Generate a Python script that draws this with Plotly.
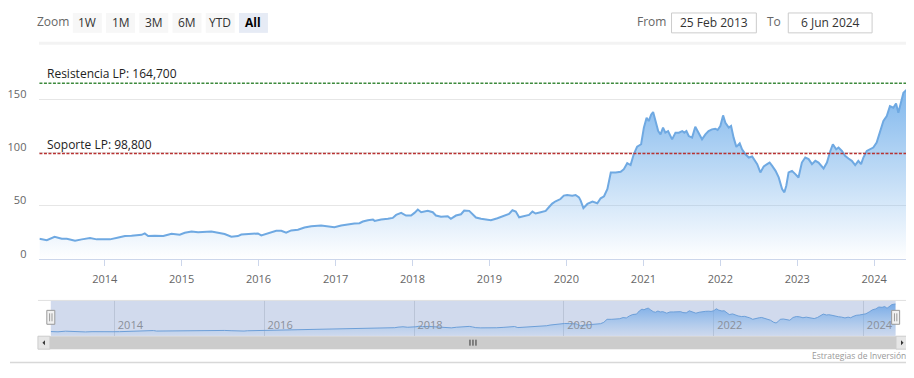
import plotly.graph_objects as go

# ---------------- data ----------------
dates = [
    "2013-02-25", "2013-04-01", "2013-05-08", "2013-06-11", "2013-07-05", "2013-08-13",
    "2013-09-14", "2013-10-23", "2013-11-24", "2013-12-25", "2014-01-26", "2014-03-07",
    "2014-04-07", "2014-05-08", "2014-06-25", "2014-07-10", "2014-07-26", "2014-08-27",
    "2014-10-06", "2014-11-14", "2014-12-23", "2015-01-16", "2015-02-17", "2015-03-20",
    "2015-04-21", "2015-05-22", "2015-06-23", "2015-07-24", "2015-08-25", "2015-09-25",
    "2015-10-11", "2015-11-27", "2015-12-29", "2016-01-14", "2016-02-15", "2016-03-25",
    "2016-04-18", "2016-05-11", "2016-06-04", "2016-07-06", "2016-08-06", "2016-09-07",
    "2016-10-24", "2016-11-25", "2016-12-26", "2017-01-27", "2017-02-28", "2017-03-31",
    "2017-04-24", "2017-05-10", "2017-06-03", "2017-06-27", "2017-07-05", "2017-08-05",
    "2017-09-06", "2017-09-29", "2017-10-15", "2017-11-08", "2017-12-01", "2017-12-25",
    "2018-01-10", "2018-01-26", "2018-02-11", "2018-03-14", "2018-04-07", "2018-04-22",
    "2018-05-16", "2018-06-17", "2018-07-02", "2018-07-26", "2018-08-19", "2018-09-03",
    "2018-09-27", "2018-10-13", "2018-10-29", "2018-11-22", "2018-12-23", "2019-01-08",
    "2019-02-08", "2019-03-11", "2019-04-04", "2019-04-20", "2019-05-06", "2019-05-22",
    "2019-06-14", "2019-07-08", "2019-07-24", "2019-08-08", "2019-09-01", "2019-09-25",
    "2019-10-10", "2019-10-26", "2019-11-11", "2019-12-04", "2019-12-20", "2020-01-05",
    "2020-01-29", "2020-02-14", "2020-03-01", "2020-03-09", "2020-03-22", "2020-04-10",
    "2020-05-04", "2020-05-27", "2020-06-12", "2020-06-28", "2020-07-14", "2020-07-30",
    "2020-08-22", "2020-09-15", "2020-09-30", "2020-10-16", "2020-11-01", "2020-11-16",
    "2020-12-02", "2020-12-21", "2021-01-03", "2021-01-16", "2021-01-26", "2021-02-07",
    "2021-02-16", "2021-02-27", "2021-03-12", "2021-03-23", "2021-04-04", "2021-04-15",
    "2021-04-28", "2021-05-17", "2021-06-02", "2021-06-18", "2021-07-04", "2021-07-14",
    "2021-07-24", "2021-08-04", "2021-08-20", "2021-09-04", "2021-09-20", "2021-10-06",
    "2021-10-22", "2021-11-06", "2021-11-22", "2021-12-08", "2021-12-19", "2022-01-01",
    "2022-01-14", "2022-01-25", "2022-02-10", "2022-02-21", "2022-03-05", "2022-03-18",
    "2022-04-03", "2022-04-14", "2022-04-30", "2022-05-16", "2022-06-01", "2022-06-17",
    "2022-06-25", "2022-07-10", "2022-07-26", "2022-08-11", "2022-08-23", "2022-09-04",
    "2022-09-20", "2022-10-05", "2022-10-21", "2022-11-01", "2022-11-10", "2022-11-21",
    "2022-12-07", "2022-12-23", "2023-01-07", "2023-01-23", "2023-02-08", "2023-02-24",
    "2023-03-12", "2023-03-28", "2023-04-12", "2023-05-06", "2023-05-22", "2023-06-07",
    "2023-06-19", "2023-07-05", "2023-07-16", "2023-08-01", "2023-08-16", "2023-09-01",
    "2023-09-17", "2023-10-03", "2023-10-18", "2023-10-31", "2023-11-11", "2023-11-27",
    "2023-12-12", "2023-12-28", "2024-01-13", "2024-01-29", "2024-02-14", "2024-03-01",
    "2024-03-16", "2024-04-01", "2024-04-14", "2024-04-25", "2024-05-11", "2024-05-19",
    "2024-06-04", "2024-06-06",
]
prices = [
    18.7, 17.4, 20.6, 18.7, 18.7, 16.8,
    18.1, 19.3, 18.1, 17.8, 18.1, 19.9,
    21.2, 21.5, 22.4, 23.7, 21.2, 21.5,
    21.2, 23.4, 22.4, 24.3, 25.5, 24.9,
    25.2, 25.5, 24.3, 23.1, 20.6, 21.2,
    22.7, 23.7, 23.7, 21.8, 24.0, 26.2,
    26.2, 24.3, 26.5, 27.1, 29.3, 30.5,
    31.2, 30.2, 29.6, 31.2, 32.4, 33.0,
    33.3, 34.9, 36.1, 36.8, 35.5, 36.8,
    37.4, 38.3, 41.1, 43.0, 40.5, 40.5,
    43.0, 46.1, 43.6, 44.9, 43.6, 40.5,
    39.3, 39.9, 37.4, 40.5, 41.7, 45.2,
    44.9, 42.1, 38.6, 37.4, 36.8, 36.1,
    38.0, 39.9, 42.1, 45.5, 44.2, 38.9,
    39.9, 41.1, 44.2, 42.4, 43.6, 44.9,
    48.3, 51.7, 53.9, 56.0, 59.2, 59.8,
    59.2, 59.8, 57.6, 54.5, 47.4, 51.4,
    53.6, 52.0, 56.7, 58.6, 65.4, 81.0,
    81.0, 81.6, 84.1, 89.7, 87.9, 98.1,
    105.3, 107.5, 123.1, 132.4, 129.3, 135.5,
    137.7, 129.3, 119.9, 116.8, 123.1, 118.4,
    119.9, 112.1, 118.4, 118.4, 119.9, 118.4,
    119.9, 115.2, 113.7, 124.0, 118.4, 112.1,
    116.8, 119.9, 121.5, 122.1, 120.9, 124.6,
    134.6, 127.7, 123.1, 124.6, 113.7, 105.0,
    108.4, 102.8, 98.1, 95.0, 96.0, 90.9,
    88.8, 81.0, 86.6, 88.8, 90.3, 87.2,
    82.5, 76.3, 65.4, 62.3, 68.5, 81.0,
    82.5, 79.4, 76.3, 90.3, 95.0, 93.5,
    88.8, 91.9, 90.3, 84.7, 90.3, 101.2,
    107.5, 102.8, 104.4, 101.2, 96.6, 94.1,
    91.9, 87.9, 91.9, 88.8, 95.0, 101.2,
    102.8, 104.4, 109.0, 118.4, 129.3, 133.9,
    143.3, 141.8, 145.8, 137.1, 147.9, 155.8,
    158.9, 159.5,
]
year_ticks = ["2014", "2015", "2016", "2017", "2018", "2019", "2020", "2021", "2022", "2023", "2024"]
nav_ticks = ["2014", "2016", "2018", "2020", "2022", "2024"]
y_ticks = [0, 50, 100, 150]
resistance = 164.7
support = 98.8
zoom_buttons = ["1W", "1M", "3M", "6M", "YTD", "All"]
date_from = "25 Feb 2013"
date_to = "6 Jun 2024"
credits = "Estrategias de Inversión"

# ---------------- layout helpers ----------------
# The page body has an 8px default margin, so the figure is drawn 8px in from the
# top-left of the window; positions below are given in window pixels.
OFF = 8
W, H = 914 - OFF, 378 - OFF
FONT = "Open Sans, DejaVu Sans, sans-serif"


def fx(p):
    return (p - OFF) / W


def fy(p):
    return 1 - (p - OFF) / H


line_col = "#6fa9e2"
grad = [[0, "rgba(124,181,236,0.0)"], [1, "rgba(124,181,236,1)"]]

fig = go.Figure()
fig.add_trace(go.Scatter(
    x=dates, y=prices, mode="lines", xaxis="x", yaxis="y",
    line=dict(color=line_col, width=2),
    fill="tozeroy",
    fillgradient=dict(type="vertical", colorscale=grad, start=0, stop=165),
    hoverinfo="x+y", showlegend=False,
))
fig.add_trace(go.Scatter(
    x=dates, y=prices, mode="lines", xaxis="x2", yaxis="y2",
    line=dict(color="#6d9fd8", width=1),
    fill="tozeroy",
    fillgradient=dict(type="vertical", colorscale=[[0, "rgba(124,181,236,0.05)"], [1, "rgba(110,165,230,0.9)"]],
                      start=0, stop=160),
    hoverinfo="skip", showlegend=False,
))

shapes = []
annotations = []

# plot lines (resistance / support)
for val, col, name in [(resistance, "#3d8a3d", "Resistencia LP"), (support, "#b83232", "Soporte LP")]:
    shapes.append(dict(type="line", xref="x domain", yref="y", x0=0, x1=1, y0=val, y1=val,
                       line=dict(color=col, width=1.5, dash="3px,1.5px"), layer="above"))
    annotations.append(dict(xref="x domain", yref="y", x=0, y=val, xanchor="left", yanchor="bottom",
                            xshift=6, yshift=-1, showarrow=False,
                            text=f"{name}: {val:.3f}".replace(".", ","),
                            font=dict(family=FONT, size=12, color="#222")))

# top bar separator band
shapes.append(dict(type="rect", xref="paper", yref="paper", x0=fx(37), x1=1, y0=fy(45), y1=fy(42),
                   fillcolor="#f3f3f3", line=dict(width=0), layer="below"))

# zoom buttons
annotations.append(dict(xref="paper", yref="paper", x=fx(33), y=fy(22), xanchor="left", yanchor="middle",
                        text="Zoom", showarrow=False, font=dict(family=FONT, size=12, color="#666")))
for i, lab in enumerate(zoom_buttons):
    x0 = 71 + i * 33.3
    sel = lab == "All"
    shapes.append(dict(type="rect", xref="paper", yref="paper", x0=fx(x0), x1=fx(x0 + 29),
                       y0=fy(33), y1=fy(13), fillcolor="#e6ebf5" if sel else "#f7f7f7",
                       line=dict(width=0), layer="below"))
    annotations.append(dict(xref="paper", yref="paper", x=fx(x0 + 14.5), y=fy(22.5), xanchor="center",
                            yanchor="middle", showarrow=False,
                            text=f"<b>{lab}</b>" if sel else lab,
                            font=dict(family=FONT, size=12, color="#000" if sel else "#333")))

# date inputs
annotations.append(dict(xref="paper", yref="paper", x=fx(667), y=fy(22), xanchor="right", yanchor="middle",
                        text="From", showarrow=False, font=dict(family=FONT, size=12, color="#666")))
annotations.append(dict(xref="paper", yref="paper", x=fx(783), y=fy(22), xanchor="right", yanchor="middle",
                        text="To", showarrow=False, font=dict(family=FONT, size=12, color="#666")))
for (x0, x1, txt) in [(671, 756, date_from), (788, 872, date_to)]:
    shapes.append(dict(type="rect", xref="paper", yref="paper", x0=fx(x0), x1=fx(x1), y0=fy(33), y1=fy(13),
                       fillcolor="white", line=dict(color="#cccccc", width=1), layer="below"))
    annotations.append(dict(xref="paper", yref="paper", x=fx((x0 + x1) / 2), y=fy(22.5), xanchor="center",
                            yanchor="middle", text=txt, showarrow=False,
                            font=dict(family=FONT, size=12, color="#333")))

# navigator mask (whole range selected)
shapes.append(dict(type="rect", xref="x2 domain", yref="y2 domain", x0=0, x1=1, y0=0, y1=1,
                   fillcolor="rgba(102,133,194,0.3)", line=dict(width=0), layer="below"))
# navigator outline top
shapes.append(dict(type="line", xref="paper", yref="paper", x0=fx(36), x1=fx(908), y0=fy(302), y1=fy(302),
                   line=dict(color="#e0e0e0", width=1)))
# navigator handles
for hx in [48.9, 895.6]:
    shapes.append(dict(type="rect", xref="paper", yref="paper", x0=fx(hx - 4), x1=fx(hx + 4),
                       y0=fy(326), y1=fy(312), fillcolor="#f2f2f2", line=dict(color="#999999", width=1),
                       layer="above"))
    for dx in (-1.2, 1.2):
        shapes.append(dict(type="line", xref="paper", yref="paper", x0=fx(hx + dx), x1=fx(hx + dx),
                           y0=fy(323), y1=fy(315), line=dict(color="#999999", width=1), layer="above"))

# scrollbar
shapes.append(dict(type="rect", xref="paper", yref="paper", x0=fx(36), x1=fx(908), y0=fy(351), y1=fy(338),
                   fillcolor="#f2f2f2", line=dict(width=0)))
shapes.append(dict(type="rect", xref="paper", yref="paper", x0=fx(48), x1=fx(896), y0=fy(351), y1=fy(338),
                   fillcolor="#cccccc", line=dict(width=0)))
for bx0 in (36, 896):
    shapes.append(dict(type="rect", xref="paper", yref="paper", x0=fx(bx0), x1=fx(bx0 + 12), y0=fy(351),
                       y1=fy(338), fillcolor="#e6e6e6", line=dict(color="#cccccc", width=1)))
# arrows
shapes.append(dict(type="path", xref="paper", yref="paper",
                   path=f"M {fx(40.5)} {fy(344.5)} L {fx(43)} {fy(342)} L {fx(43)} {fy(347)} Z",
                   fillcolor="#333", line=dict(width=0)))
shapes.append(dict(type="path", xref="paper", yref="paper",
                   path=f"M {fx(903.5)} {fy(344.5)} L {fx(901)} {fy(342)} L {fx(901)} {fy(347)} Z",
                   fillcolor="#333", line=dict(width=0)))
# rifles
for dx in (-3, 0, 3):
    shapes.append(dict(type="line", xref="paper", yref="paper", x0=fx(472 + dx), x1=fx(472 + dx),
                       y0=fy(347.5), y1=fy(341.5), line=dict(color="#333", width=1)))

# bottom border
shapes.append(dict(type="line", xref="paper", yref="paper", x0=0, x1=1, y0=fy(364.5), y1=fy(364.5),
                   line=dict(color="#d8d8d8", width=1.5)))

# credits
annotations.append(dict(xref="paper", yref="paper", x=fx(908), y=fy(357), xanchor="right", yanchor="middle",
                        text=credits, showarrow=False, font=dict(family=FONT, size=8.5, color="#999")))

fig.update_layout(
    width=W, height=H,
    margin=dict(l=0, r=0, t=0, b=0, pad=0),
    paper_bgcolor="white", plot_bgcolor="rgba(0,0,0,0)",
    font=dict(family=FONT, size=11, color="#666"),
    showlegend=False,
    hovermode="x",
    shapes=shapes, annotations=annotations,
    xaxis=dict(
        domain=[fx(37.5), fx(907.2)], anchor="y", type="date",
        range=[dates[0], dates[-1]],
        tickvals=year_ticks, ticktext=year_ticks,
        showgrid=False, zeroline=False,
        showline=True, linecolor="#ccd6eb", linewidth=1,
        ticks="outside", ticklen=6, tickcolor="#ccd6eb",
        ticklabelstandoff=4,
        tickfont=dict(family=FONT, size=11, color="#666"),
        fixedrange=True,
    ),
    yaxis=dict(
        domain=[fy(260), fy(52)], anchor="x",
        range=[0, 194.4],
        tickvals=y_ticks, ticktext=[str(v) for v in y_ticks],
        showgrid=True, gridcolor="#e6e6e6", gridwidth=1, zeroline=False,
        showline=False, ticks="",
        ticklabelstandoff=12, ticklabelshift=-5,
        tickfont=dict(family=FONT, size=11, color="#666"),
        fixedrange=True,
    ),
    xaxis2=dict(
        domain=[fx(48.9), fx(895.6)], anchor="y2", type="date",
        range=[dates[0], dates[-1]],
        tickvals=nav_ticks, ticktext=nav_ticks,
        showgrid=True, gridcolor="rgba(120,130,150,0.25)", zeroline=False,
        showline=False, ticks="",
        ticklabelposition="inside", ticklabelshift=16, ticklabelstandoff=2,
        tickfont=dict(family=FONT, size=11, color="#8a8f99"),
        fixedrange=True,
    ),
    yaxis2=dict(
        domain=[fy(338), fy(302)], anchor="x2",
        range=[-5, 177], showgrid=False, zeroline=False, showticklabels=False,
        showline=False, ticks="", fixedrange=True,
    ),
)

fig.write_html("out.html")
